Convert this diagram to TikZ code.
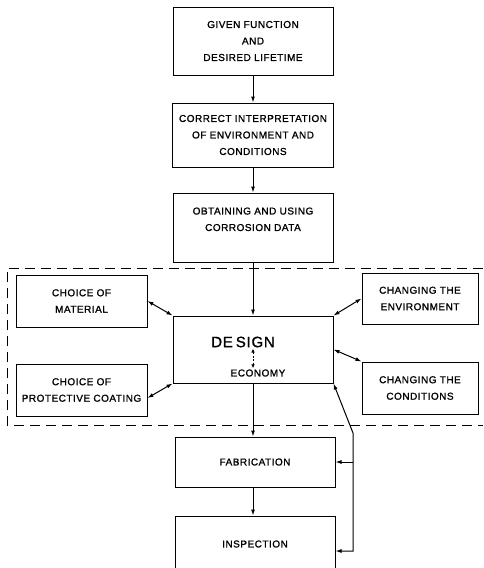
\documentclass[tikz,border=0pt]{standalone}
\usepackage{fontspec}
\setmainfont{Liberation Sans}[LetterSpace=5,FakeBold=1.2]
\usetikzlibrary{arrows.meta,positioning}

\tikzset{
  box/.style={draw,line width=1pt,inner sep=2pt,align=center,
    font=\fontsize{10}{16.5}\selectfont},
  link/.style={line width=1pt},
  frame/.style={line width=1pt,dash pattern=on 10pt off 6pt},
}

\begin{document}
\begin{tikzpicture}[x=1pt,y=-1pt,>={Latex[length=6pt,width=4pt]}]
  \useasboundingbox (0,0) rectangle (483,568);
  % main chain
  \node[box,minimum width=160pt,minimum height=68pt] (given) at (253,41)
    {GIVEN FUNCTION\\AND\\DESIRED LIFETIME};
  \node[box,minimum width=161pt,minimum height=64pt] (interp) at (253,135)
    {CORRECT INTERPRETATION\\OF ENVIRONMENT AND\\CONDITIONS};
  \node[box,minimum width=160pt,minimum height=69pt] (data) at (253,227.5)
    {OBTAINING AND USING\\CORROSION DATA\\\mbox{}};
  \node[box,minimum width=160pt,minimum height=67pt] (design) at (253,349.5) {};
  \node[font=\fontsize{15}{17}\selectfont,inner sep=1pt] (dsgn) at (243,342)
    {DE\hspace{3pt}SIGN};
  \node[font=\fontsize{10}{12}\selectfont,inner sep=1pt] (econ) at (258,373)
    {ECONOMY};
  \node[box,minimum width=160pt,minimum height=50pt] (fabric) at (255,462)
    {FABRICATION};
  \node[box,minimum width=160pt,minimum height=56pt] (inspect) at (255,544)
    {INSPECTION};
  % side boxes
  \node[box,minimum width=131pt,minimum height=52pt] (material) at (81.5,301)
    {CHOICE OF\\MATERIAL};
  \node[box,minimum width=131pt,minimum height=52pt] (coating) at (81.5,390)
    {CHOICE OF\\PROTECTIVE COATING};
  \node[box,minimum width=116pt,minimum height=51pt] (environ) at (420,298.5)
    {CHANGING THE\\ENVIRONMENT};
  \node[box,minimum width=116pt,minimum height=52pt] (conds) at (420,388)
    {CHANGING THE\\CONDITIONS};
  % dashed frame
  \draw[frame] (483,268) -- (7,268) -- (7,425) -- (483,425);
  % arrows
  \draw[link,->] (given.south) -- (interp.north);
  \draw[link,->] (interp.south) -- (data.north);
  \draw[link,->] (data.south) -- (design.north);
  \draw[link,->] (design.south) -- (design.south |- fabric.north);
  \draw[link,->] (fabric.south -| design.south) -- (design.south |- inspect.north);
  \draw[line width=0.9pt,<->,dash pattern=on 2pt off 1.5pt,>={Latex[length=4pt,width=3.5pt]}]
    ([xshift=10pt]dsgn.south) -- ([xshift=-5pt]econ.north);
  \draw[link,<->] (design.north west) -- (material.east);
  \draw[link,<->] (design.south west) -- ([yshift=-8pt]coating.east);
  \draw[link,<->] (design.north east) -- (environ.west);
  \draw[link,<->] (design.east) -- (conds.north west);
  \coordinate (bend) at (353,433);
  \coordinate (foot) at (353,551);
  \draw[link,<->] (design.south east) -- (bend) -- (foot) -- (inspect.east |- foot);
  \draw[link,->] (fabric.east -| bend) -- (fabric.east);
\end{tikzpicture}
\end{document}
